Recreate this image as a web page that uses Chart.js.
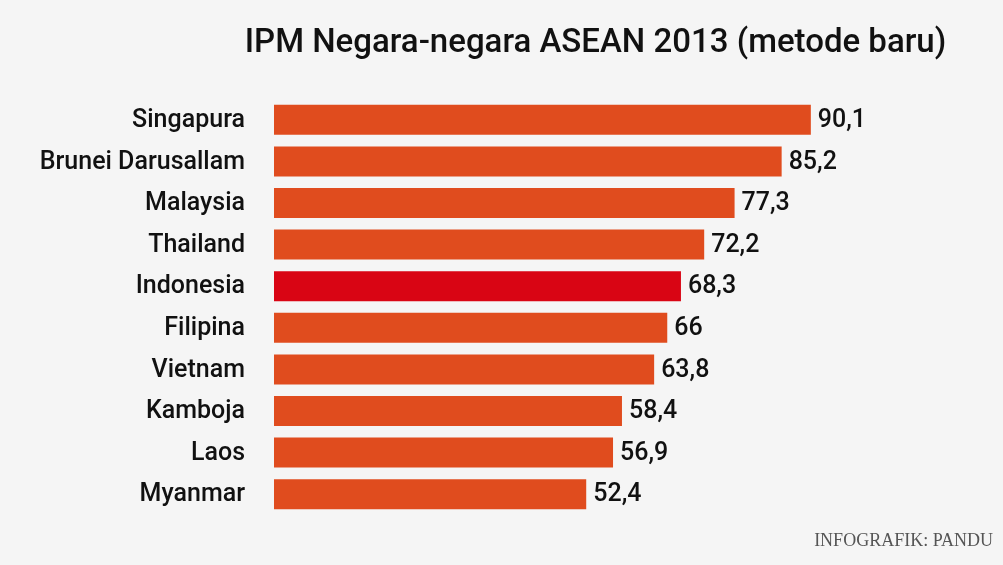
<!DOCTYPE html>
<html>
<head>
<meta charset="utf-8">
<script src="https://cdn.jsdelivr.net/npm/chart.js@4/dist/chart.umd.min.js"></script>
<style>
  html, body { margin:0; padding:0; background:#f5f5f5; }
  #wrap { position:relative; width:1003px; height:565px; overflow:hidden; background:#f5f5f5; }
  #title { position:absolute; left:0; width:1003px; top:21px; text-align:center; padding-left:188px; box-sizing:border-box;
           font-family: Roboto, sans-serif; font-weight:500; font-size:33px; color:#111; white-space:nowrap; }
  #credit { position:absolute; right:10px; top:530px; font-family:"Liberation Serif", "DejaVu Serif", serif;
            font-size:18px; color:#555; white-space:nowrap; }
  canvas { position:absolute; left:0; top:0; }
</style>
</head>
<body>
<div id="wrap">
  <canvas id="c" width="1003" height="565"></canvas>
  <div id="title">IPM Negara-negara ASEAN 2013 (metode baru)</div>
  <div id="credit">INFOGRAFIK: PANDU</div>
</div>
<script>
const categories = ["Singapura","Brunei Darusallam","Malaysia","Thailand","Indonesia","Filipina","Vietnam","Kamboja","Laos","Myanmar"];
const values = [90.1, 85.2, 77.3, 72.2, 68.3, 66, 63.8, 58.4, 56.9, 52.4];
const valueLabels = ["90,1","85,2","77,3","72,2","68,3","66","63,8","58,4","56,9","52,4"];
const highlight = "Indonesia";

const orange = "#e04c1e";
const red = "#d90514";
const colors = categories.map(c => c === highlight ? red : orange);

const labelFont = "500 25px Roboto, sans-serif";

const valueLabelPlugin = {
  id: "valueLabels",
  afterDatasetsDraw(chart) {
    const ctx = chart.ctx;
    const meta = chart.getDatasetMeta(0);
    ctx.save();
    ctx.font = labelFont;
    ctx.fillStyle = "#111";
    ctx.textAlign = "left";
    ctx.textBaseline = "middle";
    meta.data.forEach((bar, i) => {
      ctx.fillText(valueLabels[i], bar.x + 7, bar.y + 1);
    });
    ctx.restore();
  }
};

new Chart(document.getElementById("c"), {
  type: "bar",
  data: {
    labels: categories,
    datasets: [{
      data: values,
      backgroundColor: colors,
      borderWidth: 0,
      categoryPercentage: 0.72,
      barPercentage: 1.0
    }]
  },
  options: {
    indexAxis: "y",
    responsive: false,
    animation: false,
    devicePixelRatio: 1,
    layout: { padding: { top: 99, bottom: 50, left: 0, right: 14 } },
    plugins: { legend: { display: false }, tooltip: { enabled: false } },
    scales: {
      x: { display: false, min: 0, max: 120 },
      y: {
        grid: { display: false, drawTicks: false },
        border: { display: false },
        ticks: { color: "#111", font: { family: "Roboto, sans-serif", size: 25, weight: "500" }, padding: 29, labelOffset: 1 },
        afterFit(scale) { scale.width = 274; }
      }
    }
  },
  plugins: [valueLabelPlugin]
});
</script>
</body>
</html>
